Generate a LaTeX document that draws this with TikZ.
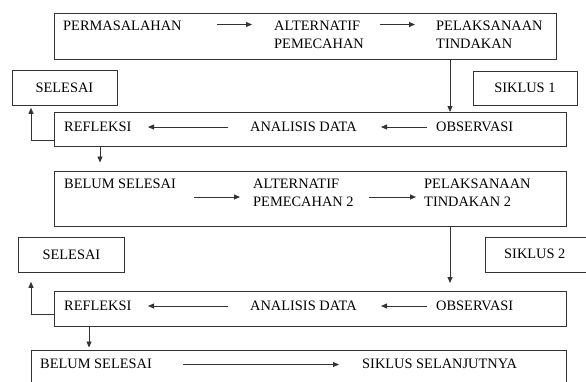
\documentclass[tikz,border=0pt]{standalone}
\usepackage{fontspec}
\setmainfont{Liberation Serif}
\usetikzlibrary{arrows.meta}
\begin{document}
\begin{tikzpicture}[x=1pt,y=-1pt,
 box/.style={draw=black!80, line width=0.8pt, inner sep=0pt, anchor=north west},
 lbl/.style={inner sep=0pt, anchor=west, text height=9.5pt, text depth=0pt, font=\fontsize{14.4}{18}\selectfont},
 lbltwo/.style={inner sep=0pt, anchor=north west, align=left, font=\fontsize{14.4}{18}\selectfont},
 arr/.style={draw=black!80, line width=0.8pt, -{Triangle[length=6pt,width=5pt]}}]
\useasboundingbox (0,0) rectangle (586,381);
\clip (0,0) rectangle (586,381);
% boxes
\node[box, minimum width=502pt, minimum height=46pt] (b1) at (54,12.5) {};
\node[box, minimum width=105pt, minimum height=35pt] (s1) at (11.5,70) {};
\node[box, minimum width=104pt, minimum height=34pt] (k1) at (472.5,70.5) {};
\node[box, minimum width=512pt, minimum height=34pt] (b2) at (54,112) {};
\node[box, minimum width=512pt, minimum height=55pt] (b3) at (54,170.5) {};
\node[box, minimum width=106pt, minimum height=35pt] (s2) at (18,237) {};
\node[box, minimum width=110pt, minimum height=35pt] (k2) at (485,237) {};
\node[box, minimum width=512pt, minimum height=35pt] (b4) at (54,291) {};
\node[box, minimum width=535pt, minimum height=50pt] (b5) at (31,349.5) {};
% texts
\node[lbl] (perm) at (63,25.5) {PERMASALAHAN};
\node[lbltwo] (alt1) at (274,20.5) {ALTERNATIF\\PEMECAHAN};
\node[lbltwo] (pel1) at (436,20.5) {PELAKSANAAN\\TINDAKAN};
\node[lbl, anchor=center] (sel1t) at (s1) {SELESAI};
\node[lbl, anchor=center] (sik1t) at (k1) {SIKLUS 1};
\node[lbl] (ref1) at (64,127) {REFLEKSI};
\node[lbl] (ana1) at (250,127) {ANALISIS DATA};
\node[lbl] (obs1) at (436,127) {OBSERVASI};
\node[lbl] (bel1) at (64,184) {BELUM SELESAI};
\node[lbltwo] (alt2) at (253,179) {ALTERNATIF\\PEMECAHAN 2};
\node[lbltwo] (pel2) at (424,179) {PELAKSANAAN\\TINDAKAN 2};
\node[lbl, anchor=center] (sel2t) at (s2) {SELESAI};
\node[lbl] (sik2t) at (504,254) {SIKLUS 2};
\node[lbl] (ref2) at (64,306) {REFLEKSI};
\node[lbl] (ana2) at (250,306) {ANALISIS DATA};
\node[lbl] (obs2) at (436,306) {OBSERVASI};
\node[lbl] (bel2) at (40,364) {BELUM SELESAI};
\node[lbl] (sik3) at (362,364) {SIKLUS SELANJUTNYA};
% arrows inside boxes
\draw[arr] ([xshift=163pt,yshift=-12pt]b1.north west) -- ++(35,0);
\draw[arr] ([xshift=326pt,yshift=-12pt]b1.north west) -- ++(35,0);
\draw[arr] ([xshift=174pt,yshift=-15pt]b2.north west) -- ++(-80,0);
\draw[arr] ([xshift=373pt,yshift=-15pt]b2.north west) -- ++(-46,0);
\draw[arr] ([xshift=140pt,yshift=-26.5pt]b3.north west) -- ++(46,0);
\draw[arr] ([xshift=315pt,yshift=-26.5pt]b3.north west) -- ++(47,0);
\draw[arr] ([xshift=174pt,yshift=-15pt]b4.north west) -- ++(-80,0);
\draw[arr] ([xshift=373pt,yshift=-15pt]b4.north west) -- ++(-46,0);
\draw[arr] ([xshift=152pt,yshift=-15pt]b5.north west) -- ++(156,0);
% connectors between boxes
\draw[arr] ([xshift=396pt]b1.south west) -- ([xshift=396pt]b2.north west);
\draw[arr, shorten >=2pt] ([yshift=-11pt]b2.west) -| ([xshift=19.5pt]s1.south west);
\draw[arr, shorten >=8pt] ([xshift=46pt]b2.south west) -- ([xshift=46pt]b3.north west);
\draw[arr, shorten >=8pt] ([xshift=396pt]b3.south west) -- ([xshift=396pt]b4.north west);
\draw[arr, shorten >=9pt] ([yshift=-5pt]b4.west) -| ([xshift=13pt]s2.south west);
\draw[arr, shorten >=2pt] ([xshift=35pt]b4.south west) -- ([xshift=58pt]b5.north west);
\end{tikzpicture}
\end{document}
